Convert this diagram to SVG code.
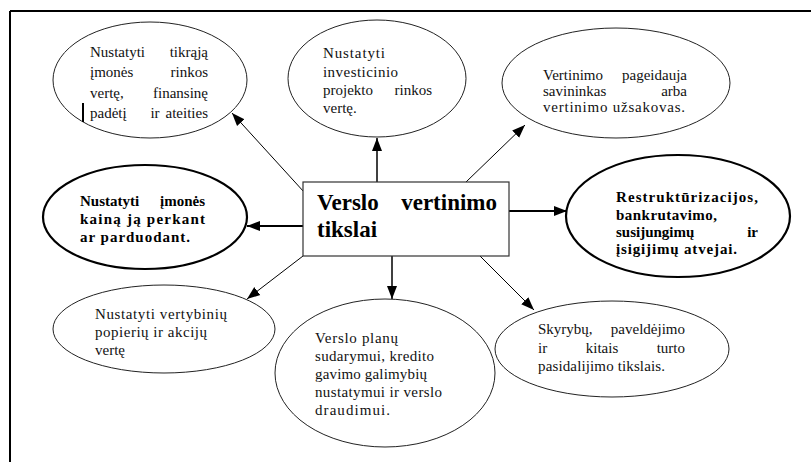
<svg xmlns="http://www.w3.org/2000/svg" width="811" height="462" viewBox="0 0 811 462">
  <style>
    .t { font-family: "Liberation Serif", "Times New Roman", serif; font-size: 15px; fill: #111; }
    .b { font-family: "Liberation Serif", "Times New Roman", serif; font-size: 15px; font-weight: bold; fill: #000; }
    .h { font-family: "Liberation Serif", "Times New Roman", serif; font-size: 23px; font-weight: bold; fill: #000; }
    .thin { fill: #fff; stroke: #222; stroke-width: 1; }
    .thick { fill: #fff; stroke: #000; stroke-width: 2.2; }
    .con { stroke: #000; fill: none; marker-end: url(#arrow); }
    .e { text-anchor: end; }
    .m { text-anchor: middle; }
  </style>
  <defs>
    <marker id="arrow" markerUnits="userSpaceOnUse" markerWidth="14" markerHeight="12" refX="13" refY="6" orient="auto">
      <path d="M0,1 L13,6 L0,11 Z" fill="#000"/>
    </marker>
  </defs>

  <!-- page frame -->
  <g id="frame">
    <line x1="10" y1="11" x2="811" y2="11" stroke="#000" stroke-width="2"/>
    <line x1="10" y1="11" x2="10" y2="462" stroke="#000" stroke-width="2"/>
  </g>

  <!-- connectors -->
  <g id="connectors">
    <line class="con" x1="304" y1="192" x2="232" y2="113" stroke-width="1"/>
    <line class="con" x1="377" y1="182" x2="377" y2="138" stroke-width="1.5"/>
    <line class="con" x1="466" y1="182" x2="525" y2="125" stroke-width="1"/>
    <line class="con" x1="303" y1="226" x2="247" y2="226" stroke-width="2.2"/>
    <line class="con" x1="509" y1="211" x2="567" y2="211" stroke-width="2.2"/>
    <line class="con" x1="303" y1="256" x2="247" y2="299" stroke-width="1"/>
    <line class="con" x1="392" y1="256" x2="392" y2="299" stroke-width="1.5"/>
    <line class="con" x1="480" y1="256" x2="534" y2="310" stroke-width="1"/>
  </g>

  <!-- central box -->
  <g id="center">
    <rect x="303" y="182" width="206" height="74" fill="#fff" stroke="#333" stroke-width="1.2"/>
    <text class="h" x="317" y="210">Verslo</text>
    <text class="h e" x="497" y="210">vertinimo</text>
    <text class="h" x="317" y="237">tikslai</text>
  </g>

  <g id="n-tikraja">
    <ellipse class="thin" cx="150" cy="80" rx="97" ry="58"/>
    <text class="t" x="90" y="57">Nustatyti</text>
    <text class="t e" x="208" y="57">tikrąją</text>
    <text class="t" x="90" y="77">įmonės</text>
    <text class="t e" x="208" y="77">rinkos</text>
    <text class="t" x="90" y="98">vertę,</text>
    <text class="t e" x="208" y="98">finansinę</text>
    <text class="t" x="90" y="118">padėtį</text>
    <text class="t m" x="155" y="118">ir</text>
    <text class="t e" x="208" y="118">ateities</text>
    <line x1="83" y1="103" x2="83" y2="122" stroke="#000" stroke-width="2"/>
  </g>

  <g id="n-investicinio">
    <ellipse class="thin" cx="377" cy="78.5" rx="89" ry="58.5"/>
    <text class="t" x="323" y="58" textLength="62">Nustatyti</text>
    <text class="t" x="323" y="77" textLength="75">investicinio</text>
    <text class="t" x="323" y="95">projekto</text>
    <text class="t e" x="432" y="95">rinkos</text>
    <text class="t" x="323" y="113">vertę.</text>
  </g>

  <g id="n-savininkas">
    <ellipse class="thin" cx="616" cy="83" rx="114" ry="55"/>
    <text class="t" x="543" y="80">Vertinimo</text>
    <text class="t e" x="687" y="80">pageidauja</text>
    <text class="t" x="543" y="96">savininkas</text>
    <text class="t e" x="687" y="96">arba</text>
    <text class="t" x="543" y="112" textLength="142">vertinimo užsakovas.</text>
  </g>

  <g id="n-kaina">
    <ellipse class="thick" cx="145" cy="217" rx="102" ry="52"/>
    <text class="b" x="80" y="206">Nustatyti</text>
    <text class="b e" x="205" y="206">įmonės</text>
    <text class="b" x="80" y="224" textLength="125">kainą ją perkant</text>
    <text class="b" x="80" y="242" textLength="110">ar parduodant.</text>
  </g>

  <g id="n-restrukturizacijos">
    <ellipse class="thick" cx="678" cy="216" rx="112" ry="61"/>
    <text class="b" x="616" y="202" textLength="142">Restruktūrizacijos,</text>
    <text class="b" x="616" y="220" textLength="101">bankrutavimo,</text>
    <text class="b" x="616" y="237">susijungimų</text>
    <text class="b e" x="758" y="237">ir</text>
    <text class="b" x="616" y="254" textLength="121">įsigijimų atvejai.</text>
  </g>

  <g id="n-vertybiniu">
    <ellipse class="thin" cx="164" cy="329" rx="111" ry="44"/>
    <text class="t" x="95" y="319" textLength="132">Nustatyti vertybinių</text>
    <text class="t" x="95" y="337" textLength="112">popierių ir akcijų</text>
    <text class="t" x="95" y="355">vertę</text>
  </g>

  <g id="n-planu">
    <ellipse class="thin" cx="385" cy="373" rx="110" ry="74"/>
    <text class="t" x="315" y="343" textLength="83">Verslo planų</text>
    <text class="t" x="315" y="361" textLength="119">sudarymui, kredito</text>
    <text class="t" x="315" y="379" textLength="112">gavimo galimybių</text>
    <text class="t" x="315" y="397" textLength="127">nustatymui ir verslo</text>
    <text class="t" x="315" y="415" textLength="75">draudimui.</text>
  </g>

  <g id="n-skyrybu">
    <ellipse class="thin" cx="612" cy="349" rx="117" ry="48"/>
    <text class="t" x="538" y="334">Skyrybų,</text>
    <text class="t e" x="685" y="334">paveldėjimo</text>
    <text class="t" x="538" y="353">ir</text>
    <text class="t m" x="602" y="353">kitais</text>
    <text class="t e" x="685" y="353">turto</text>
    <text class="t" x="538" y="371" textLength="127">pasidalijimo tikslais.</text>
  </g>
</svg>
